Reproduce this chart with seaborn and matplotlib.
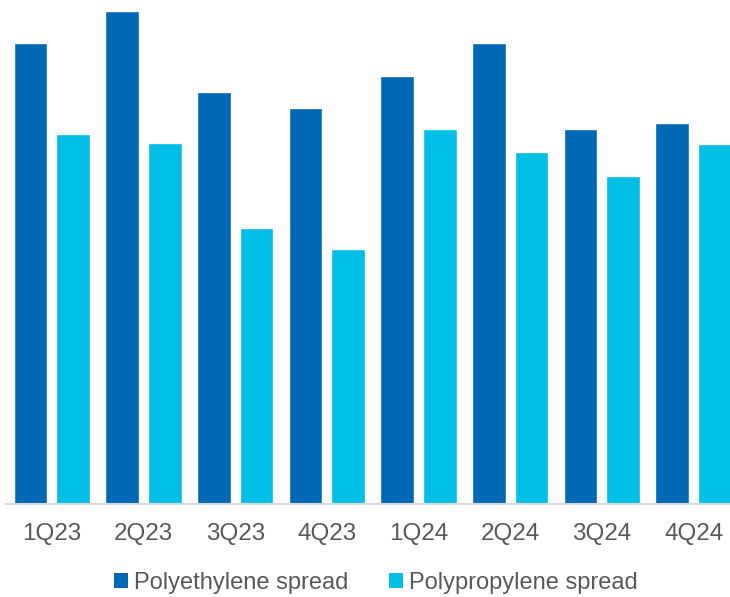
import matplotlib
matplotlib.use("Agg")
import matplotlib.pyplot as plt
import seaborn as sns
import pandas as pd
from matplotlib.patches import Patch

quarters = ["1Q23", "2Q23", "3Q23", "4Q23", "1Q24", "2Q24", "3Q24", "4Q24"]
polyethylene = [46.1, 49.3, 41.2, 39.6, 42.8, 46.1, 37.5, 38.1]
polypropylene = [37.0, 36.1, 27.6, 25.5, 37.5, 35.2, 32.8, 36.0]
series_names = ["Polyethylene spread", "Polypropylene spread"]
palette = ["#0068B4", "#00BFE6"]

df = pd.DataFrame({
    "quarter": quarters * 2,
    "value": polyethylene + polypropylene,
    "series": [series_names[0]] * len(quarters) + [series_names[1]] * len(quarters),
})

sns.set_theme(style="white")
plt.rcParams["font.family"] = ["Liberation Sans", "DejaVu Sans"]

W, H = 730, 597
fig = plt.figure(figsize=(W / 100, H / 100), dpi=100)
left, right, bottom, top = 6, 739.5, 504, 4
ax = fig.add_axes([left / W, 1 - bottom / H, (right - left) / W, (bottom - top) / H])

sns.barplot(data=df, x="quarter", y="value", hue="series", palette=palette,
            width=0.93, gap=0.21, ax=ax, legend=False, saturation=1)

ax.set_ylim(0, 50)
ax.set_xlim(-0.5, len(quarters) - 0.5)
ax.set_xlabel("")
ax.set_ylabel("")
ax.set_yticks([])
for s in ["top", "right", "left"]:
    ax.spines[s].set_visible(False)
ax.spines["bottom"].set_color("#D9D9D9")
ax.spines["bottom"].set_linewidth(1.5)
ax.tick_params(axis="x", length=0, pad=14, labelsize=17.5, labelcolor="#595959")

handles = [Patch(facecolor=c, edgecolor="none") for c in palette]
fig.legend(handles, series_names, loc="center", bbox_to_anchor=(376 / W, 1 - 583 / H),
           ncol=2, frameon=False, fontsize=17, labelcolor="#595959",
           handlelength=0.6, handleheight=0.6, handletextpad=0.25, columnspacing=1.7)

fig.savefig("out.png", dpi=100)
